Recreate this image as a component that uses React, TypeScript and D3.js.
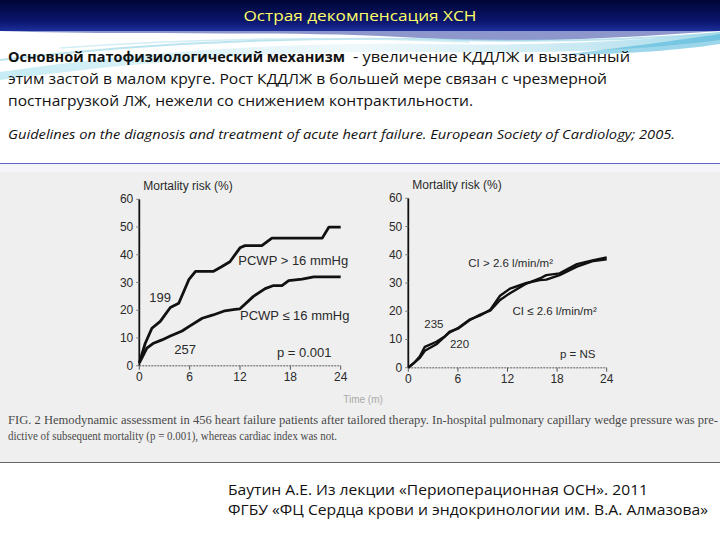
import React from "react";
import * as d3 from "d3";

// ---- data ----
const pcwpHighMonths = [0, 0.7, 1.5, 2.5, 3.1, 3.7, 4.7, 5.9, 6.7, 8.8, 9.8, 10.8, 12, 12.6, 14.6, 15.8, 21.8, 22.6, 24];
const pcwpHighRisk = [1, 8, 13.5, 16, 18.5, 21, 22.5, 31, 34, 34, 35.7, 37.5, 42.5, 43.3, 43.3, 46, 46, 50, 50];
const pcwpLowMonths = [0, 0.3, 0.9, 1.7, 2.7, 3.7, 5.1, 5.9, 7.5, 8.8, 10.2, 11.4, 12, 13.6, 15, 16, 17, 17.8, 19.4, 20.8, 24];
const pcwpLowRisk = [1, 2.7, 6.3, 8.1, 9.3, 10.7, 12.5, 14.1, 17.1, 18.3, 19.8, 20.3, 20.5, 25, 27.8, 28.9, 28.9, 30.7, 31.2, 32, 32];
const ciMonths = [0, 0.8, 1.4, 2, 3.4, 4.4, 5, 6, 7.4, 8.7, 9.9, 11.1, 12.3, 14.3, 15.9, 16.7, 18.3, 20.4, 22.4, 24];
const ciHighRisk = [0, 2, 4, 7.4, 9.2, 11, 12.5, 14, 17, 18.5, 20.5, 25.5, 28, 30, 31, 31.2, 32.8, 35.8, 37.8, 38.4];
const ciLowRisk = [0, 2, 3.5, 6, 8.3, 11, 12.8, 13.8, 16.8, 18.8, 20.2, 24, 26.4, 29.8, 31.6, 32.8, 33.4, 36.7, 38.1, 39.1];
const xTicks = [0, 6, 12, 18, 24];
const yTicks = [0, 10, 20, 30, 40, 50, 60];

const leftLabels = [
  { text: "199", t: 2.47, v: 24.4, anchor: "middle" },
  { text: "257", t: 5.45, v: 5.7, anchor: "middle" },
  { text: "PCWP > 16 mmHg", t: 11.8, v: 37.9, anchor: "start" },
  { text: "PCWP ≤ 16 mmHg", t: 12.0, v: 17.9, anchor: "start" },
  { text: "p = 0.001", t: 16.4, v: 4.6, anchor: "start" },
];
const rightLabels = [
  { text: "CI > 2.6 l/min/m²", t: 7.26, v: 37, anchor: "start" },
  { text: "CI ≤ 2.6 l/min/m²", t: 12.6, v: 20.2, anchor: "start" },
  { text: "235", t: 3.1, v: 15.5, anchor: "middle" },
  { text: "220", t: 6.2, v: 8.4, anchor: "middle" },
  { text: "p = NS", t: 18.35, v: 4.8, anchor: "start" },
];

const chartFont = "'Liberation Sans', Arial, sans-serif";

type Lbl = { text: string; t: number; v: number; anchor: string };

function Panel(props: {
  x0: number; x1: number; y0: number; y1: number;
  series: { m: number[]; v: number[]; w: number }[];
  labels: Lbl[];
  labelSize: number;
}) {
  const x = d3.scaleLinear().domain([0, 24]).range([props.x0, props.x1]);
  const y = d3.scaleLinear().domain([0, 60]).range([props.y0, props.y1]);
  const line = d3.line<[number, number]>().x((d) => x(d[0])).y((d) => y(d[1]));
  return (
    <g fontFamily={chartFont} fill="#2a2a2a">
      <line x1={x(0)} x2={x(24)} y1={y(0)} y2={y(0)} stroke="#8a8a8a" strokeWidth={1.4} strokeDasharray="2,1" />
      {xTicks.map((t) => (
        <g key={"xt" + t}>
          <line x1={x(t)} x2={x(t)} y1={y(0)} y2={y(0) + 4} stroke="#555" strokeWidth={1} />
          <text x={x(t)} y={y(0) + 15} textAnchor="middle" fontSize={12}>{t}</text>
        </g>
      ))}
      <line x1={x(0)} x2={x(0)} y1={y(0)} y2={y(60)} stroke="#111" strokeWidth={1.8} />
      {yTicks.map((v) => (
        <g key={"yt" + v}>
          <line x1={x(0) - 3} x2={x(0)} y1={y(v)} y2={y(v)} stroke="#777" strokeWidth={1} />
          <text x={x(0) - 6} y={y(v) + 4} textAnchor="end" fontSize={12}>{v}</text>
        </g>
      ))}
      <text x={x(0) + 4} y={y(60) - 9} fontSize={12}>Mortality risk (%)</text>
      {props.series.map((s, i) => (
        <path
          key={"s" + i}
          d={line(s.m.map((m, k) => [m, s.v[k]] as [number, number])) || ""}
          fill="none"
          stroke="#111"
          strokeWidth={s.w}
          strokeLinejoin="round"
        />
      ))}
      {props.labels.map((l) => (
        <text key={l.text} x={x(l.t)} y={y(l.v) + 4} textAnchor={l.anchor as any} fontSize={props.labelSize}>
          {l.text}
        </text>
      ))}
    </g>
  );
}

export default function App() {
  const bodyFont = "'Open Sans', 'Noto Sans', sans-serif";
  return (
    <svg width={720} height={540} style={{ position: "absolute", left: 0, top: 0 }}>
      <defs>
        <linearGradient id="bar" x1="0" y1="0" x2="0" y2="1">
          <stop offset="0" stopColor="#000634" />
          <stop offset="0.7" stopColor="#0b1670" />
          <stop offset="1" stopColor="#1d2f9a" />
        </linearGradient>
        <linearGradient id="wave" x1="0" y1="0" x2="1" y2="0">
          <stop offset="0" stopColor="#7fd3e6" stopOpacity="0.8" />
          <stop offset="0.5" stopColor="#bfe6f0" stopOpacity="0.5" />
          <stop offset="1" stopColor="#4fb6d8" stopOpacity="0.9" />
        </linearGradient>
      </defs>
      <rect x={0} y={0} width={720} height={540} fill="#ffffff" />
      <rect x={0} y={0} width={720} height={31} fill="url(#bar)" />
      <path d="M0,31 C150,36 300,30 420,38 C520,44 620,38 720,31 L720,31 Z" fill="#1d2f9a" opacity={0.5} />
      <path d="M0,72 C120,55 260,42 420,44 C560,46 650,40 720,32 L720,40 C640,50 560,54 420,52 C280,50 140,62 0,80 Z" fill="url(#wave)" opacity={0.55} />
      <path d="M0,60 C150,42 300,36 460,40 C580,43 660,38 720,33" fill="none" stroke="#9fd8e8" strokeWidth={2} opacity={0.7} />
      <path d="M60,48 C200,38 330,36 470,42" fill="none" stroke="#c7e8f1" strokeWidth={1.5} opacity={0.8} />
      <path d="M560,55 C620,48 680,40 720,34 L720,44 C680,50 630,54 560,55 Z" fill="#3aaed6" opacity={0.5} />
      <text x={360} y={21} textAnchor="middle" fontFamily={bodyFont} fontSize={15} fill="#ffff66" textLength={233} lengthAdjust="spacingAndGlyphs">
        Острая декомпенсация ХСН
      </text>

      <g fontFamily={bodyFont} fontSize={15} fill="#111">
        <text x={8} y={62} fontWeight="bold" textLength={337} lengthAdjust="spacingAndGlyphs">
          Основной патофизиологический механизм
        </text>
        <text x={353} y={62} textLength={277} lengthAdjust="spacingAndGlyphs">
          - увеличение КДДЛЖ и вызванный
        </text>
        <text x={8} y={84} textLength={599} lengthAdjust="spacingAndGlyphs">
          этим застой в малом круге. Рост КДДЛЖ в большей мере связан с чрезмерной
        </text>
        <text x={8} y={106} textLength={465} lengthAdjust="spacingAndGlyphs">
          постнагрузкой ЛЖ, нежели со снижением контрактильности.
        </text>
        <text x={8} y={139} fontSize={13} fontStyle="italic" textLength={667} lengthAdjust="spacingAndGlyphs">
          Guidelines on the diagnosis and treatment of acute heart failure. European Society of Cardiology; 2005.
        </text>
      </g>

      <rect x={0} y={163} width={720} height={300} fill="#efefef" />
      <rect x={0} y={163} width={720} height={9} fill="#f4f4f9" />
      <line x1={0} x2={720} y1={163.5} y2={163.5} stroke="#5b66c8" strokeWidth={1} />
      <line x1={0} x2={720} y1={462.5} y2={462.5} stroke="#666" strokeWidth={1} />

      <Panel
        x0={139.3} x1={340.7} y0={365.7} y1={199.3}
        series={[
          { m: pcwpHighMonths, v: pcwpHighRisk, w: 2.8 },
          { m: pcwpLowMonths, v: pcwpLowRisk, w: 2.8 },
        ]}
        labels={leftLabels}
        labelSize={13}
      />
      <Panel
        x0={408.3} x1={606.7} y0={367.7} y1={198.3}
        series={[
          { m: ciMonths, v: ciHighRisk, w: 2.4 },
          { m: ciMonths, v: ciLowRisk, w: 2.4 },
        ]}
        labels={rightLabels}
        labelSize={11.5}
      />

      <text x={363} y={403} textAnchor="middle" fontFamily={chartFont} fontSize={10} fill="#aaa">Time (m)</text>
      <g fontFamily="'Liberation Serif', 'DejaVu Serif', serif" fontSize={11.5} fill="#4a4a4a">
        <text x={8} y={424} textLength={710} lengthAdjust="spacingAndGlyphs">
          FIG. 2   Hemodynamic assessment in 456 heart failure patients after tailored therapy. In-hospital pulmonary capillary wedge pressure was pre-
        </text>
        <text x={8} y={440} textLength={329} lengthAdjust="spacingAndGlyphs">
          dictive of subsequent mortality (p = 0.001), whereas cardiac index was not.
        </text>
      </g>

      <g fontFamily={bodyFont} fontSize={15} fill="#111">
        <text x={228} y={495} textLength={420} lengthAdjust="spacingAndGlyphs">
          Баутин А.Е. Из лекции «Периоперационная ОСН». 2011
        </text>
        <text x={228} y={515} textLength={480} lengthAdjust="spacingAndGlyphs">
          ФГБУ «ФЦ Сердца крови и эндокринологии им. В.А. Алмазова»
        </text>
      </g>
    </svg>
  );
}
